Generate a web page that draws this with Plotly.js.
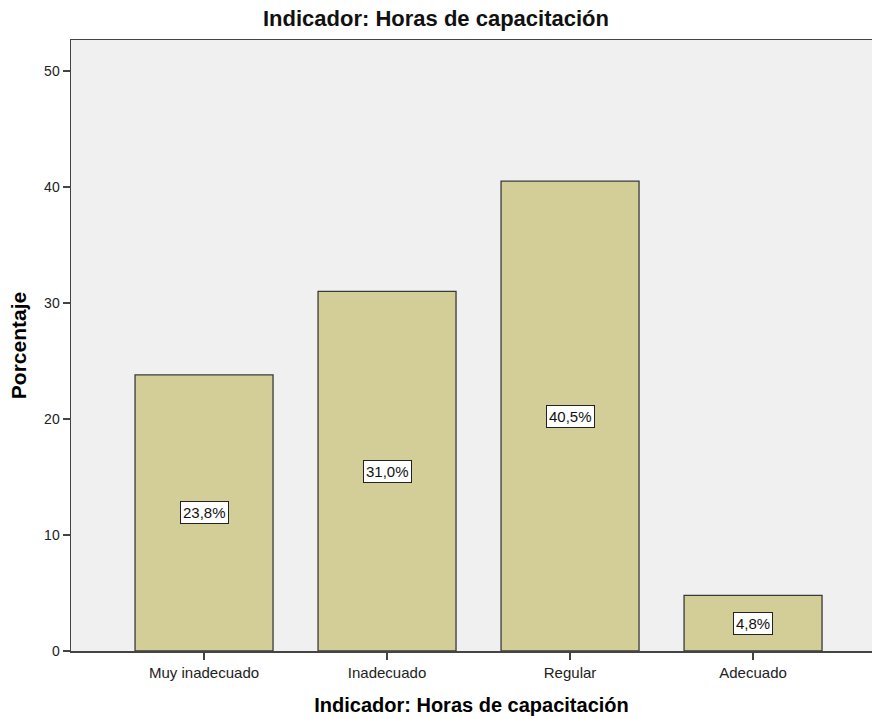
<!DOCTYPE html>
<html>
<head>
<meta charset="utf-8">
<script src="https://cdn.plot.ly/plotly-3.0.1.min.js"></script>
<style>html,body{margin:0;padding:0;background:#fff;}#chart{width:872px;height:719px;}</style>
</head>
<body>
<div id="chart"></div>
<script>
const categories = ["Muy inadecuado", "Inadecuado", "Regular", "Adecuado"];
const values = [23.8, 31.0, 40.5, 4.8];
const valueLabels = ["23,8%", "31,0%", "40,5%", "4,8%"];
const yTicks = [0, 10, 20, 30, 40, 50];

const FONT = "Arial, Liberation Sans, sans-serif";

const trace = {
  type: "bar",
  x: categories,
  y: values,
  width: 0.754,
  marker: {color: "#d3ce97", line: {color: "#3a3a3a", width: 1.3}},
  hoverinfo: "skip"
};

const annotations = categories.map((c, i) => ({
  x: c, y: values[i] / 2, xref: "x", yref: "y",
  text: valueLabels[i], showarrow: false,
  bgcolor: "#ffffff", bordercolor: "#222222", borderwidth: 1, borderpad: 2,
  font: {family: FONT, size: 15, color: "#111"}
}));

const layout = {
  width: 872, height: 719,
  margin: {l: 71, r: 0, t: 40, b: 68},
  paper_bgcolor: "#ffffff",
  plot_bgcolor: "#f0f0f0",
  showlegend: false,
  title: {text: "Indicador: Horas de capacitación", x: 0.5, xanchor: "center", y: 0.975, yanchor: "middle",
    font: {family: FONT, size: 22, color: "#111", weight: "bold"}},
  xaxis: {
    type: "category", range: [-0.727, 3.65],
    showline: true, linecolor: "#444", linewidth: 1.5, mirror: true,
    ticks: "outside", ticklen: 7, tickcolor: "#444", tickwidth: 1.5,
    showgrid: false, zeroline: false,
    tickfont: {family: FONT, size: 15, color: "#222"},
    title: {text: "Indicador: Horas de capacitación", standoff: 18,
      font: {family: FONT, size: 20, color: "#000", weight: "bold"}}
  },
  yaxis: {
    range: [0, 52.67], tickvals: yTicks,
    showline: true, linecolor: "#444", linewidth: 1.5,
    ticks: "outside", ticklen: 7, tickcolor: "#444", tickwidth: 1.5,
    showgrid: false, zeroline: false,
    tickfont: {family: FONT, size: 14, color: "#222"},
    title: {text: "Porcentaje", standoff: 12,
      font: {family: FONT, size: 21, color: "#000", weight: "bold"}}
  },
  annotations: annotations
};

Plotly.newPlot("chart", [trace], layout, {displayModeBar: false, staticPlot: true});
</script>
</body>
</html>
